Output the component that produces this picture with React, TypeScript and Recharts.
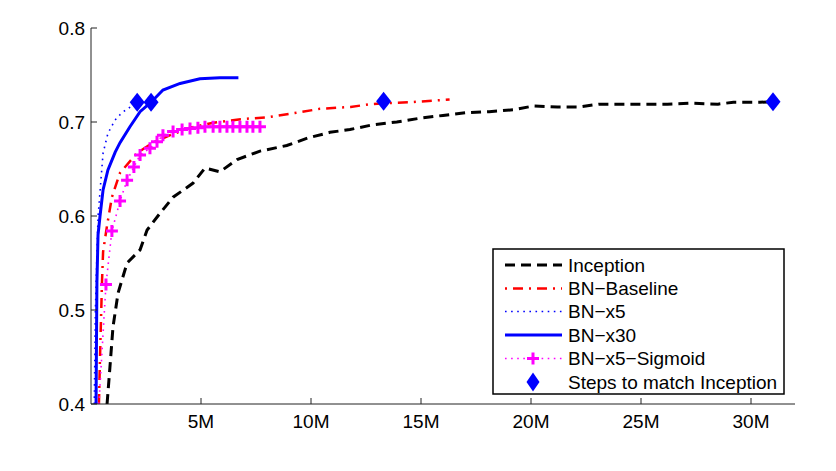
import React from "react";
import {
  ComposedChart,
  Line,
  Scatter,
  XAxis,
  YAxis,
} from "recharts";

// x in millions of training steps, y = validation accuracy
const inception = [
  [0.73, 0.4], [0.86, 0.439], [1.0, 0.482], [1.23, 0.518], [1.64, 0.55],
  [2.23, 0.564], [2.55, 0.585], [3.14, 0.603], [3.73, 0.62], [4.64, 0.635],
  [5.18, 0.651], [5.86, 0.647], [6.64, 0.66], [7.68, 0.669], [8.9, 0.675],
  [9.86, 0.683], [10.86, 0.689], [11.77, 0.692], [12.8, 0.697], [13.9, 0.7],
  [14.95, 0.704], [16.0, 0.707], [17.1, 0.71], [18.1, 0.711], [19.2, 0.713],
  [20.1, 0.717], [21.2, 0.716], [22.2, 0.716], [23.1, 0.719], [24.6, 0.719],
  [26.2, 0.719], [27.2, 0.72], [28.5, 0.719], [29.2, 0.721], [30.4, 0.721],
  [31.0, 0.7215],
];

const bnBaseline = [
  [0.36, 0.4], [0.41, 0.45], [0.45, 0.486], [0.5, 0.53], [0.55, 0.562],
  [0.73, 0.59], [0.95, 0.62], [1.32, 0.646], [2.1, 0.667], [2.8, 0.678],
  [3.6, 0.686], [4.5, 0.694], [5.5, 0.699], [6.8, 0.703], [8.0, 0.705],
  [9.4, 0.71], [10.4, 0.714], [11.8, 0.716], [12.7, 0.719], [13.3, 0.72],
  [14.5, 0.721], [16.3, 0.724],
];

const bnX5 = [
  [0.15, 0.4], [0.2, 0.5], [0.27, 0.56], [0.32, 0.599], [0.45, 0.638],
  [0.55, 0.667], [0.77, 0.688], [1.09, 0.702], [1.41, 0.71], [2.1, 0.721],
];

const bnX30 = [
  [0.23, 0.4], [0.25, 0.47], [0.27, 0.53], [0.32, 0.58], [0.41, 0.6],
  [0.55, 0.628], [0.77, 0.649], [1.1, 0.668], [1.32, 0.678], [1.77, 0.695],
  [2.23, 0.711], [2.73, 0.721], [3.27, 0.734], [4.05, 0.741], [4.95, 0.746],
  [5.86, 0.747], [6.7, 0.747],
];

const bnX5Sigmoid = [
  [0.36, 0.4], [0.68, 0.527], [0.95, 0.584], [1.32, 0.616], [1.64, 0.638],
  [1.95, 0.652], [2.23, 0.665], [2.68, 0.672], [3.0, 0.679], [3.27, 0.686],
  [3.73, 0.69], [4.14, 0.692], [4.5, 0.693], [4.86, 0.694], [5.18, 0.695],
  [5.55, 0.695], [5.86, 0.695], [6.18, 0.695], [6.45, 0.695], [6.77, 0.695],
  [7.09, 0.695], [7.36, 0.695], [7.68, 0.695],
];

const matchSteps = [
  [2.1, 0.721], [2.73, 0.721], [13.3, 0.722], [31.0, 0.7215],
];

const xTicks = [5, 10, 15, 20, 25, 30];
const yTicks = [0.4, 0.5, 0.6, 0.7, 0.8];

const legendItems = [
  "Inception",
  "BN\u2212Baseline",
  "BN\u2212x5",
  "BN\u2212x30",
  "BN\u2212x5\u2212Sigmoid",
  "Steps to match Inception",
];

const toPts = (arr: number[][]) => arr.map(([x, y]) => ({ x, y }));

const FONT = "'Liberation Sans', Arial, Helvetica, sans-serif";

const PlusDot = (props: any) => {
  const { cx, cy, index } = props;
  if (index === 0 || cx == null) return <g key={`p${index}`} />;
  return (
    <path
      key={`p${index}`}
      d={`M${cx - 6},${cy}H${cx + 6}M${cx},${cy - 6}V${cy + 6}`}
      stroke="#ff00ff"
      strokeWidth={3}
      fill="none"
    />
  );
};

const Diamond = (props: any) => {
  const { cx, cy } = props;
  return (
    <polygon
      points={`${cx},${cy - 9.5} ${cx + 7.5},${cy} ${cx},${cy + 9.5} ${cx - 7.5},${cy}`}
      fill="#0000ff"
    />
  );
};

const LegendBox = () => {
  const rows = [16, 39.5, 62.5, 86, 109.5, 133];
  return (
    <svg width={294} height={148} style={{ position: "absolute", left: 484, top: 240 }}>
      <rect x={1} y={1} width={291} height={145} fill="#fff" stroke="#000" strokeWidth={1.5} />
      <line x1={13} x2={70} y1={rows[0] + 1} y2={rows[0] + 1} stroke="#000" strokeWidth={3} strokeDasharray="10 6" />
      <line x1={13} x2={70} y1={rows[1] + 1} y2={rows[1] + 1} stroke="#ff0000" strokeWidth={2.5} strokeDasharray="2 6 10 6" />
      <line x1={13} x2={70} y1={rows[2] + 1} y2={rows[2] + 1} stroke="#0000ff" strokeWidth={1.6} strokeDasharray="1.6 4.5" />
      <line x1={13} x2={70} y1={rows[3] + 1} y2={rows[3] + 1} stroke="#0000ff" strokeWidth={3} />
      <line x1={13} x2={70} y1={rows[4] + 1} y2={rows[4] + 1} stroke="#ff00ff" strokeWidth={1.6} strokeDasharray="1.6 4.5" />
      <path d={`M35,${rows[4] + 1}H47M41,${rows[4] - 5}V${rows[4] + 7}`} stroke="#ff00ff" strokeWidth={3} />
      <polygon points={`41,${rows[5] - 8.5} 47.5,${rows[5] + 1} 41,${rows[5] + 10.5} 34.5,${rows[5] + 1}`} fill="#0000ff" />
      {legendItems.map((t, i) => (
        <text key={t} x={76} y={rows[i] + 7.5} fontSize={19} fontFamily={FONT} fill="#000">
          {t}
        </text>
      ))}
    </svg>
  );
};

export default function App() {
  const tickStyle = { fill: "#000", fontSize: 19, fontFamily: FONT };
  return (
    <div style={{ position: "relative", width: 820, height: 455, fontFamily: FONT }}>
      <ComposedChart
        width={820}
        height={455}
        margin={{ top: 20, right: 33, bottom: 29, left: 23 }}
      >
        <XAxis
          type="number"
          dataKey="x"
          domain={[0, 32]}
          ticks={xTicks}
          tickFormatter={(v) => `${v}M`}
          allowDataOverflow
          height={30}
          stroke="#222"
          tickSize={-6}
          tickMargin={16.5}
          tick={tickStyle}
        />
        <YAxis
          type="number"
          dataKey="y"
          domain={[0.4, 0.8]}
          ticks={yTicks}
          tickFormatter={(v) => v.toFixed(1)}
          allowDataOverflow
          width={60}
          stroke="#222"
          tickSize={-6}
          tickMargin={12}
          tick={tickStyle}
        />
        <Line
          data={toPts(inception)}
          dataKey="y"
          type="linear"
          stroke="#000"
          strokeWidth={3}
          strokeDasharray="10 6"
          dot={false}
          isAnimationActive={false}
        />
        <Line
          data={toPts(bnBaseline)}
          dataKey="y"
          type="linear"
          stroke="#ff0000"
          strokeWidth={2.5}
          strokeDasharray="10 6 2 6"
          dot={false}
          isAnimationActive={false}
        />
        <Line
          data={toPts(bnX5)}
          dataKey="y"
          type="linear"
          stroke="#0000ff"
          strokeWidth={1.6}
          strokeDasharray="1.6 4.5"
          dot={false}
          isAnimationActive={false}
        />
        <Line
          data={toPts(bnX5Sigmoid)}
          dataKey="y"
          type="linear"
          stroke="#ff00ff"
          strokeWidth={1.6}
          strokeDasharray="1.6 4.5"
          dot={PlusDot}
          isAnimationActive={false}
        />
        <Line
          data={toPts(bnX30)}
          dataKey="y"
          type="linear"
          stroke="#0000ff"
          strokeWidth={3}
          dot={false}
          isAnimationActive={false}
        />
        <Scatter
          data={toPts(matchSteps)}
          dataKey="y"
          shape={Diamond}
          isAnimationActive={false}
        />
      </ComposedChart>
      <LegendBox />
    </div>
  );
}
